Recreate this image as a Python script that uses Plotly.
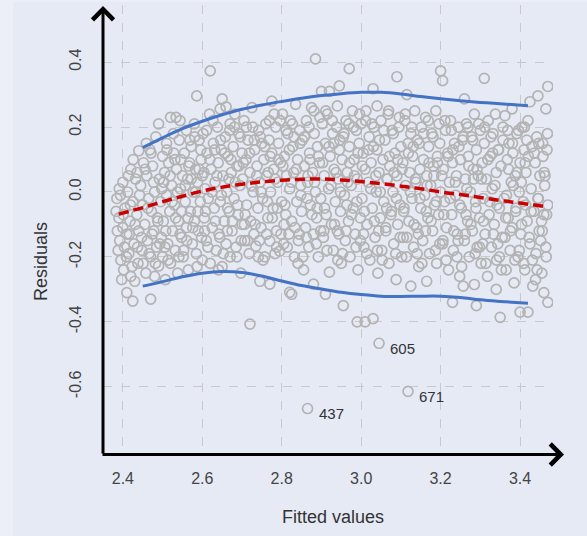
import plotly.graph_objects as go

# ---------------- data ----------------
band_1 = [(2.385,-0.02),(2.39,-0.08),(2.392,-0.15),(2.395,-0.21),(2.388,-0.18),(2.40,0.03),(2.40,-0.11),
          (2.402,-0.24),(2.405,-0.05),(2.41,-0.13),(2.41,-0.31),(2.412,0.0),(2.415,-0.19),(2.418,-0.09),
          (2.42,0.07),(2.42,-0.26),(2.425,-0.336),(2.425,-0.03),(2.428,-0.16),(2.43,-0.275),(2.432,0.04),
          (2.435,-0.07),(2.438,-0.22),(2.44,0.127),(2.44,-0.12),(2.445,0.02),(2.448,-0.18),(2.45,-0.04)]
band_2 = [(2.452,0.09),(2.455,-0.1),(2.458,-0.25),(2.46,0.05),(2.462,-0.15),(2.465,-0.02),(2.468,0.13),
          (2.47,-0.33),(2.47,-0.2),(2.472,-0.06),(2.475,0.08),(2.478,-0.12),(2.48,-0.26),(2.48,0.0),
          (2.483,0.17),(2.485,-0.17),(2.487,-0.08),(2.49,0.21),(2.49,-0.228),(2.492,0.04),(2.495,-0.03),
          (2.497,-0.14),(2.5,0.11),(2.5,-0.2)]
band_3 = [(2.502,-0.09),(2.505,0.06),(2.507,-0.27),(2.51,0.15),(2.51,-0.01),(2.513,-0.16),(2.515,0.09),
          (2.518,-0.06),(2.52,0.23),(2.52,-0.22),(2.523,0.02),(2.525,-0.12),(2.528,0.12),(2.53,-0.04),
          (2.532,-0.18),(2.534,0.23),(2.535,0.07),(2.538,-0.25),(2.54,-0.09),(2.542,0.16),(2.544,0.22),
          (2.545,0.01),(2.548,-0.14),(2.55,0.05)]
band_4 = [(2.552,-0.2),(2.555,0.12),(2.557,-0.03),(2.56,0.19),(2.56,-0.11),(2.563,0.04),(2.565,-0.24),
          (2.568,0.09),(2.57,-0.06),(2.572,0.14),(2.575,-0.16),(2.577,0.0),(2.58,0.21),(2.58,-0.09),
          (2.583,0.07),(2.585,-0.19),(2.586,0.296),(2.588,0.03),(2.59,-0.12),(2.592,0.16),(2.595,-0.03),
          (2.597,0.1),(2.6,-0.21),(2.6,0.05)]
band_5 = [(2.602,0.18),(2.605,-0.08),(2.607,0.01),(2.61,-0.15),(2.612,0.12),(2.615,-0.02),(2.618,0.24),
          (2.62,0.373),(2.62,-0.22),(2.622,0.07),(2.625,-0.11),(2.628,0.15),(2.63,-0.05),(2.632,0.03),
          (2.635,-0.18),(2.638,0.2),(2.64,0.09),(2.642,-0.13),(2.645,0.256),(2.645,-0.03),(2.648,0.13),
          (2.65,0.287),(2.65,-0.23)]
band_6 = [(2.652,0.05),(2.655,-0.09),(2.658,0.17),(2.66,0.262),(2.66,-0.16),(2.662,0.0),(2.665,0.11),
          (2.668,-0.06),(2.67,0.21),(2.67,-0.2),(2.673,0.06),(2.675,-0.12),(2.678,0.14),(2.68,-0.02),
          (2.682,0.24),(2.685,-0.17),(2.687,0.08),(2.69,-0.07),(2.692,0.18),(2.695,0.02),(2.697,-0.25),
          (2.7,0.12),(2.7,-0.1)]
band_7 = [(2.702,0.04),(2.705,0.22),(2.707,-0.15),(2.71,0.1),(2.712,-0.04),(2.715,0.16),(2.718,-0.19),
          (2.72,-0.407),(2.72,0.06),(2.722,-0.09),(2.725,0.26),(2.728,0.0),(2.73,-0.13),(2.732,0.13),
          (2.735,-0.167),(2.738,0.08),(2.74,-0.05),(2.742,0.19),(2.745,-0.275),(2.745,0.03),(2.748,-0.11),
          (2.75,0.15)]
band_8 = [(2.752,-0.02),(2.755,0.1),(2.757,-0.2),(2.76,0.21),(2.762,0.05),(2.765,-0.08),(2.768,0.16),
          (2.77,-0.284),(2.77,-0.151),(2.772,0.0),(2.775,0.28),(2.775,0.12),(2.778,-0.05),(2.78,0.07),
          (2.783,-0.19),(2.785,0.2),(2.787,-0.12),(2.79,0.03),(2.792,0.15),(2.795,-0.182),(2.797,0.09),
          (2.8,-0.03)]
band_9 = [(2.802,0.24),(2.805,-0.16),(2.807,0.11),(2.81,-0.07),(2.812,0.05),(2.815,0.18),(2.818,-0.13),
          (2.82,-0.309),(2.82,0.01),(2.822,0.22),(2.825,-0.315),(2.825,-0.09),(2.828,0.14),(2.83,0.06),
          (2.832,-0.2),(2.835,0.27),(2.838,-0.03),(2.84,0.1),(2.842,-0.15),(2.845,0.19),(2.848,0.02),
          (2.85,-0.06)]
band_10 = [(2.852,0.16),(2.855,-0.24),(2.857,0.08),(2.86,-0.11),(2.862,0.22),(2.865,0.03),(2.868,-0.17),
           (2.87,0.12),(2.872,-0.04),(2.875,0.26),(2.878,0.06),(2.88,-0.284),(2.88,-0.13),(2.882,0.18),
           (2.885,0.41),(2.885,0.0),(2.888,-0.08),(2.89,0.14),(2.892,-0.2),(2.895,0.09),(2.898,-0.02),
           (2.9,0.31)]
band_11 = [(2.902,0.21),(2.905,-0.14),(2.907,0.05),(2.91,-0.315),(2.91,0.15),(2.912,-0.07),(2.915,0.24),
           (2.918,0.01),(2.92,0.31),(2.92,-0.247),(2.922,0.11),(2.925,-0.1),(2.928,0.18),(2.93,-0.18),
           (2.932,0.07),(2.935,-0.03),(2.938,0.2),(2.94,0.265),(2.94,-0.12),(2.942,0.04),(2.945,0.327),
           (2.945,0.13),(2.948,-0.06),(2.95,-0.22)]
band_12 = [(2.952,0.1),(2.955,-0.35),(2.955,0.17),(2.958,-0.01),(2.96,-0.15),(2.962,0.22),(2.965,0.06),
           (2.968,-0.09),(2.97,0.38),(2.97,0.14),(2.972,-0.2),(2.975,0.02),(2.978,0.25),(2.98,-0.05),
           (2.982,0.1),(2.985,-0.13),(2.988,0.19),(2.99,-0.40),(2.99,0.04),(2.992,-0.24),(2.995,0.15),
           (2.998,-0.08),(3.0,0.21)]
band_13 = [(3.002,-0.02),(3.005,0.12),(3.007,-0.17),(3.01,-0.40),(3.01,0.07),(3.012,0.25),(3.015,-0.1),
           (3.018,0.03),(3.02,0.17),(3.022,-0.21),(3.025,0.09),(3.028,-0.05),(3.03,0.318),(3.03,-0.39),
           (3.032,0.2),(3.035,-0.14),(3.038,0.0),(3.04,0.265),(3.04,0.13),(3.042,-0.25),(3.045,0.06),
           (3.048,-0.08),(3.05,0.22)]
band_14 = [(3.052,-0.18),(3.055,0.1),(3.057,-0.03),(3.06,0.16),(3.062,-0.12),(3.065,0.04),(3.068,0.24),
           (3.07,-0.22),(3.072,0.08),(3.075,-0.07),(3.078,0.19),(3.08,0.0),(3.082,-0.16),(3.085,0.12),
           (3.088,-0.27),(3.09,0.355),(3.09,0.05),(3.092,-0.1),(3.095,0.2),(3.098,-0.04),(3.1,0.14)]
band_15 = [(3.102,-0.2),(3.105,0.09),(3.107,-0.06),(3.11,0.22),(3.112,0.02),(3.115,0.30),(3.115,-0.14),
           (3.118,0.15),(3.12,-0.09),(3.122,0.06),(3.125,-0.29),(3.125,0.18),(3.128,-0.02),(3.13,0.11),
           (3.132,-0.17),(3.135,0.25),(3.138,0.03),(3.14,-0.11),(3.142,0.16),(3.145,-0.23),(3.148,0.07),
           (3.15,-0.05)]
band_16 = [(3.152,0.2),(3.155,-0.15),(3.157,0.1),(3.16,-0.01),(3.162,0.23),(3.165,-0.275),(3.165,0.05),
           (3.168,-0.08),(3.17,0.14),(3.172,-0.19),(3.175,0.02),(3.178,0.18),(3.18,-0.12),(3.182,0.08),
           (3.185,-0.04),(3.188,0.25),(3.19,-0.22),(3.192,0.11),(3.195,-0.07),(3.198,0.15),(3.2,0.373),
           (3.2,0.0)]
band_17 = [(3.205,0.343),(3.205,-0.16),(3.207,0.07),(3.21,-0.03),(3.212,0.19),(3.215,-0.11),(3.218,0.12),
           (3.22,-0.24),(3.222,0.03),(3.225,0.22),(3.228,-0.07),(3.23,-0.34),(3.23,0.09),(3.232,-0.18),
           (3.235,0.15),(3.238,-0.01),(3.24,0.05),(3.242,-0.13),(3.245,0.2),(3.248,-0.26),(3.25,0.1)]
band_18 = [(3.252,-0.05),(3.255,0.16),(3.257,-0.29),(3.26,0.287),(3.26,-0.15),(3.262,0.04),(3.265,0.21),
           (3.268,-0.09),(3.27,0.11),(3.272,-0.2),(3.275,0.0),(3.278,0.17),(3.28,-0.12),(3.282,0.07),
           (3.285,-0.285),(3.285,0.24),(3.288,-0.03),(3.29,-0.35),(3.29,0.13),(3.292,-0.17),(3.295,0.05),
           (3.298,-0.08),(3.3,0.19)]
band_19 = [(3.302,-0.22),(3.305,0.09),(3.307,-0.02),(3.31,0.35),(3.31,0.15),(3.312,-0.13),(3.315,0.04),
           (3.318,-0.26),(3.32,0.22),(3.322,-0.07),(3.325,0.11),(3.328,-0.17),(3.33,0.01),(3.332,0.18),
           (3.335,-0.1),(3.338,0.24),(3.34,-0.3),(3.34,0.06),(3.342,-0.04),(3.345,0.13),(3.348,-0.2),
           (3.35,-0.386)]
band_20 = [(3.352,0.08),(3.355,-0.14),(3.357,0.2),(3.36,-0.02),(3.362,0.235),(3.365,-0.24),(3.368,0.1),
           (3.37,-0.08),(3.372,0.15),(3.375,-0.18),(3.378,0.03),(3.38,0.256),(3.38,-0.11),(3.382,0.12),
           (3.385,-0.28),(3.388,0.05),(3.39,-0.05),(3.392,0.18),(3.395,-0.2),(3.398,0.0),(3.4,-0.37),
           (3.4,0.09)]
band_21 = [(3.402,-0.13),(3.405,0.2),(3.408,-0.03),(3.41,0.13),(3.412,-0.24),(3.415,0.06),(3.418,-0.09),
           (3.42,0.22),(3.42,-0.37),(3.425,0.278),(3.425,-0.16),(3.428,0.01),(3.43,0.14),(3.432,-0.29),
           (3.435,-0.06),(3.438,0.09),(3.44,-0.19),(3.442,0.17),(3.445,0.296),(3.445,-0.02),(3.448,-0.12),
           (3.45,0.05),(3.455,-0.25),(3.458,0.11),(3.46,-0.31),(3.46,-0.07),(3.462,0.02),(3.465,0.256),
           (3.465,-0.17),(3.468,0.13),(3.47,0.325),(3.47,-0.34),(3.47,-0.04)]

# denser core of the cloud
core_a = [(2.383,-0.06),(2.447,-0.14),(2.391,0.01),(2.466,-0.19),(2.404,-0.17),(2.431,-0.1),(2.477,0.03),
          (2.419,-0.04),(2.456,0.07),(2.397,-0.27),(2.488,-0.09),(2.426,0.1),(2.463,-0.05),(2.409,-0.2),
          (2.436,0.06),(2.493,-0.16),(2.414,0.05),(2.471,0.12),(2.386,-0.12),(2.451,-0.22),(2.442,-0.01),
          (2.498,0.01),(2.423,-0.23),(2.482,-0.22),(2.401,-0.07),(2.459,0.15),(2.437,-0.17),(2.416,-0.13),
          (2.474,-0.13),(2.394,-0.01)]
core_b = [(2.503,0.03),(2.561,-0.15),(2.527,0.18),(2.589,-0.06),(2.514,-0.21),(2.546,0.1),(2.572,0.04),
          (2.508,-0.12),(2.596,0.13),(2.533,-0.08),(2.553,-0.18),(2.581,0.17),(2.519,0.05),(2.566,0.08),
          (2.541,-0.2),(2.598,-0.14),(2.524,-0.03),(2.557,0.02),(2.587,-0.23),(2.511,0.13),(2.548,-0.06),
          (2.576,-0.11),(2.531,0.1),(2.564,-0.08),(2.592,0.07),(2.537,0.0),(2.506,-0.17),(2.569,0.16),
          (2.544,-0.13),(2.583,0.0)]
core_c = [(2.604,0.06),(2.663,-0.12),(2.627,0.22),(2.689,-0.04),(2.614,-0.17),(2.646,0.16),(2.672,0.1),
          (2.608,-0.06),(2.696,0.17),(2.633,-0.09),(2.653,-0.19),(2.681,0.2),(2.619,0.1),(2.667,0.04),
          (2.641,-0.24),(2.698,-0.15),(2.624,0.0),(2.657,0.12),(2.687,-0.2),(2.611,0.19),(2.648,-0.01),
          (2.676,-0.09),(2.631,0.13),(2.664,-0.05),(2.692,0.08),(2.637,0.05),(2.606,-0.12),(2.669,0.19),
          (2.644,-0.14),(2.683,0.03)]
core_d = [(2.703,0.09),(2.762,-0.13),(2.727,0.2),(2.789,-0.05),(2.714,-0.15),(2.746,0.17),(2.771,0.11),
          (2.708,-0.07),(2.796,0.22),(2.733,-0.1),(2.753,-0.21),(2.781,0.24),(2.719,0.12),(2.766,0.06),
          (2.741,-0.2),(2.798,-0.13),(2.724,0.02),(2.757,0.14),(2.787,-0.17),(2.711,0.2),(2.748,0.0),
          (2.776,-0.08),(2.731,0.16),(2.764,-0.03),(2.792,0.1),(2.737,0.05),(2.706,-0.1),(2.769,0.22),
          (2.744,-0.15),(2.783,0.04)]
core_e = [(2.803,0.08),(2.862,-0.14),(2.827,0.21),(2.889,-0.05),(2.814,-0.17),(2.846,0.15),(2.871,0.1),
          (2.808,-0.04),(2.896,0.23),(2.833,-0.11),(2.853,-0.2),(2.881,0.25),(2.819,0.13),(2.866,0.05),
          (2.841,-0.22),(2.898,-0.12),(2.824,0.03),(2.857,0.17),(2.887,-0.16),(2.811,0.19),(2.848,-0.01),
          (2.876,-0.07),(2.831,0.17),(2.864,-0.02),(2.892,0.11),(2.837,0.07),(2.806,-0.1),(2.869,0.2),
          (2.844,-0.13),(2.883,0.03)]
core_f = [(2.903,0.09),(2.962,-0.12),(2.927,0.22),(2.989,-0.03),(2.914,-0.18),(2.946,0.16),(2.971,0.09),
          (2.908,-0.05),(2.996,0.24),(2.933,-0.1),(2.953,-0.19),(2.981,0.2),(2.919,0.14),(2.966,0.03),
          (2.941,-0.21),(2.998,-0.15),(2.924,0.02),(2.957,0.18),(2.987,-0.17),(2.911,0.25),(2.948,0.0),
          (2.976,-0.07),(2.931,0.15),(2.964,-0.04),(2.992,0.12),(2.937,0.06),(2.906,-0.12),(2.969,0.21),
          (2.944,-0.13),(2.983,0.05)]
core_g = [(3.003,0.08),(3.062,-0.11),(3.027,0.21),(3.089,-0.02),(3.014,-0.19),(3.046,0.16),(3.071,0.11),
          (3.008,-0.06),(3.096,0.23),(3.033,-0.09),(3.053,-0.21),(3.081,0.18),(3.019,0.13),(3.066,0.04),
          (3.041,-0.18),(3.098,-0.14),(3.024,0.01),(3.057,0.19),(3.087,-0.19),(3.011,0.22),(3.048,0.0),
          (3.076,-0.06),(3.031,0.14),(3.064,-0.05),(3.092,0.1),(3.037,0.05),(3.006,-0.13),(3.069,0.25),
          (3.044,-0.12),(3.083,0.06)]
core_h = [(3.103,0.07),(3.162,-0.12),(3.127,0.2),(3.189,-0.03),(3.114,-0.2),(3.146,0.15),(3.171,0.09),
          (3.108,-0.05),(3.196,0.21),(3.133,-0.1),(3.153,-0.22),(3.181,0.17),(3.119,0.12),(3.166,0.02),
          (3.141,-0.19),(3.198,-0.16),(3.124,0.0),(3.157,0.18),(3.187,-0.18),(3.111,0.24),(3.148,-0.02),
          (3.176,-0.09),(3.131,0.14),(3.164,-0.06),(3.192,0.09),(3.137,0.04),(3.106,-0.14),(3.169,0.22),
          (3.144,-0.13),(3.183,0.05)]
core_i = [(3.203,0.05),(3.262,-0.13),(3.227,0.19),(3.289,-0.05),(3.214,-0.21),(3.246,0.14),(3.271,0.08),
          (3.208,-0.07),(3.296,0.21),(3.233,-0.12),(3.253,-0.23),(3.281,0.16),(3.219,0.11),(3.266,0.01),
          (3.241,-0.2),(3.298,-0.17),(3.224,-0.02),(3.257,0.17),(3.287,-0.19),(3.211,0.22),(3.248,-0.04),
          (3.276,-0.1),(3.231,0.13),(3.264,-0.07),(3.292,0.07),(3.237,0.03),(3.206,-0.15),(3.269,0.2),
          (3.244,-0.15),(3.283,0.04)]
core_j = [(3.303,0.04),(3.362,-0.14),(3.327,0.17),(3.389,-0.06),(3.314,-0.22),(3.346,0.13),(3.371,0.07),
          (3.308,-0.09),(3.396,0.19),(3.333,-0.13),(3.353,-0.24),(3.381,0.15),(3.319,0.1),(3.366,-0.01),
          (3.341,-0.21),(3.398,-0.18),(3.324,-0.03),(3.357,0.16),(3.387,-0.21),(3.311,0.2),(3.348,-0.05),
          (3.376,-0.12),(3.331,0.12),(3.364,-0.08),(3.392,0.06),(3.337,0.02),(3.306,-0.16),(3.369,0.19),
          (3.344,-0.16),(3.383,0.02)]
core_k = [(3.403,0.03),(3.452,-0.15),(3.417,0.16),(3.467,-0.07),(3.409,-0.22),(3.436,0.12),(3.461,0.06),
          (3.404,-0.1),(3.469,0.18),(3.423,-0.14),(3.443,-0.24),(3.457,0.15),(3.413,0.09),(3.446,-0.02),
          (3.431,-0.21),(3.466,-0.2),(3.414,-0.04),(3.447,0.15),(3.439,-0.27),(3.411,0.2),(3.428,-0.06),
          (3.456,-0.12),(3.421,0.11),(3.454,-0.09),(3.463,0.05)]

# labelled outlying observations
outlier_ids = ["437", "605", "671"]
outlier_fitted = [2.865, 3.045, 3.118]
outlier_resid = [-0.667, -0.466, -0.614]

# smoother (dashed red) and spread bands (blue)
smooth_x = [2.39, 2.45, 2.5, 2.55, 2.6, 2.65, 2.7, 2.75, 2.8, 2.85, 2.9, 2.95, 3.0, 3.05, 3.1,
            3.15, 3.2, 3.25, 3.3, 3.35, 3.4, 3.47]
smooth_y = [-0.068, -0.048, -0.03, -0.013, 0.003, 0.015, 0.024, 0.031, 0.036, 0.039, 0.04, 0.037,
            0.032, 0.026, 0.018, 0.01, 0.0, -0.008, -0.017, -0.026, -0.034, -0.046]
band_x = [2.45, 2.5, 2.55, 2.6, 2.65, 2.7, 2.75, 2.8, 2.85, 2.9, 2.95, 3.0, 3.05, 3.1, 3.15,
          3.2, 3.25, 3.3, 3.35, 3.42]
upper_y = [0.137, 0.167, 0.195, 0.218, 0.238, 0.255, 0.268, 0.279, 0.289, 0.297, 0.303, 0.307,
           0.307, 0.302, 0.294, 0.287, 0.281, 0.276, 0.272, 0.266]
lower_y = [-0.29, -0.276, -0.261, -0.25, -0.245, -0.248, -0.259, -0.274, -0.288, -0.299, -0.309,
           -0.316, -0.321, -0.322, -0.321, -0.321, -0.325, -0.332, -0.337, -0.343]

x_ticks = [2.4, 2.6, 2.8, 3.0, 3.2, 3.4]
y_ticks = [-0.6, -0.4, -0.2, 0.0, 0.2, 0.4]

# ---------------- figure ----------------
groups = [band_1, band_2, band_3, band_4, band_5, band_6, band_7, band_8, band_9, band_10, band_11,
          band_12, band_13, band_14, band_15, band_16, band_17, band_18, band_19, band_20, band_21,
          core_a, core_b, core_c, core_d, core_e, core_f, core_g, core_h, core_i, core_j, core_k]
fitted = [p[0] for g in groups for p in g] + outlier_fitted
resid = [p[1] for g in groups for p in g] + outlier_resid

W, H = 587, 536
L, R, T, B = 103, 34, 5, 83
pw, ph = W - L - R, H - T - B
FONT = "Liberation Sans, Arial, sans-serif"
BLUE = "#4472c4"

fig = go.Figure()
fig.add_trace(go.Scatter(
    x=fitted, y=resid, mode="markers",
    marker=dict(symbol="circle-open", size=10, color="#b3b3b3", line=dict(width=1.7, color="#b3b3b3")),
    hoverinfo="skip", showlegend=False))
fig.add_trace(go.Scatter(x=band_x, y=upper_y, mode="lines", line=dict(color=BLUE, width=3, shape="spline"),
                         showlegend=False))
fig.add_trace(go.Scatter(x=band_x, y=lower_y, mode="lines", line=dict(color=BLUE, width=3, shape="spline"),
                         showlegend=False))
fig.add_trace(go.Scatter(x=smooth_x, y=smooth_y, mode="lines",
                         line=dict(color="#cc0000", width=3.5, dash="10px,5px", shape="spline"),
                         showlegend=False))

annotations = []
for lab, xv, yv in zip(outlier_ids, outlier_fitted, outlier_resid):
    annotations.append(dict(x=xv, y=yv, text=lab, showarrow=False, xanchor="left", yanchor="middle",
                            xshift=9, yshift=-5, font=dict(size=15, color="#333333", family=FONT)))

# axis arrows (decoration, in paper coordinates)
annotations.append(dict(xref="paper", yref="paper", x=(564 - L) / pw, y=-1.5 / ph, ax=-(564 - 101), ay=0,
                        axref="pixel", ayref="pixel", showarrow=True, arrowhead=4, arrowsize=1.35,
                        arrowwidth=3, arrowcolor="#000000", text=""))
annotations.append(dict(xref="paper", yref="paper", x=0, y=(453 - 6) / ph, ax=0, ay=(455 - 6),
                        axref="pixel", ayref="pixel", showarrow=True, arrowhead=4, arrowsize=1.35,
                        arrowwidth=3, arrowcolor="#000000", text=""))
# axis titles
annotations.append(dict(xref="paper", yref="paper", x=(333 - L) / pw, y=-(517 - 453) / ph, text="Fitted values",
                        showarrow=False, xanchor="center", yanchor="middle",
                        font=dict(size=18, color="#333333", family=FONT)))
annotations.append(dict(xref="paper", yref="paper", x=-(L - 41) / pw, y=(453 - 262) / ph, text="Residuals",
                        showarrow=False, xanchor="center", yanchor="middle", textangle=-90,
                        font=dict(size=18, color="#333333", family=FONT)))

grid = dict(showgrid=True, gridcolor="#c9c9cc", gridwidth=1, griddash="dash", zeroline=False,
            showline=False, ticks="", automargin=False)
fig.update_layout(
    template="none",
    width=W, height=H, margin=dict(l=L, r=R, t=T, b=B, pad=0, autoexpand=False),
    paper_bgcolor="#eceff8", plot_bgcolor="#e6eaf5",
    font=dict(family=FONT, color="#444444"),
    xaxis=dict(range=[2.35, 3.483], tickvals=x_ticks, ticktext=[f"{v:.1f}" for v in x_ticks],
               tickfont=dict(size=16, color="#444444"), ticklabelstandoff=14, **grid),
    yaxis=dict(range=[-0.804, 0.576], tickvals=y_ticks, ticktext=[f"{v:.1f}" for v in y_ticks],
               tickangle=-90, tickfont=dict(size=16, color="#444444"), ticklabelstandoff=18, **grid),
    annotations=annotations,
    shapes=[dict(type="rect", xref="paper", yref="paper", x0=(13 - L) / pw, x1=(W - L) / pw,
                 y0=-(H - 453) / ph, y1=(453 - 2) / ph, fillcolor="#e6eaf5", line=dict(width=0),
                 layer="below")],
)
fig.write_html("out.html", config={"displayModeBar": False},
               post_script="document.body.style.margin='0';document.body.style.background='#eceff8';")
